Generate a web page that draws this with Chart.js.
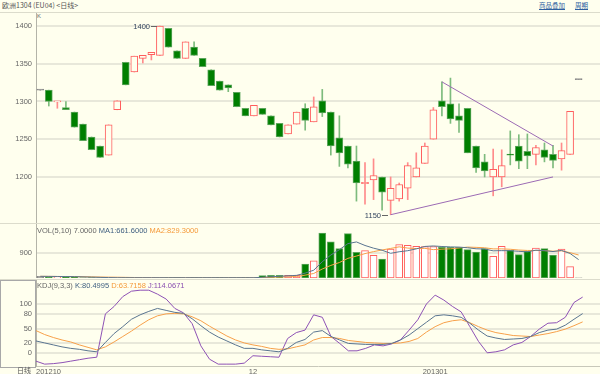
<!DOCTYPE html>
<html>
<head>
<meta charset="utf-8">
<script src="https://cdn.jsdelivr.net/npm/chart.js@4/dist/chart.umd.min.js"></script>
<style>
  body { margin: 0; width: 600px; height: 374px; overflow: hidden; position: relative; background: #FFFFEE; font-family: "Liberation Sans", Arial, sans-serif; }
  canvas { position: absolute; left: 0; }
  .txt { position: absolute; white-space: nowrap; font-size: 7.5px; line-height: 9px; color: #666; }
  .hline { position: absolute; left: 0; width: 600px; height: 1px; background: #DCDCCC; }
  #title { left: 2px; top: 1px; font-family: "Noto Sans CJK SC", sans-serif; font-size: 7px; color: #555; }
  #links { right: 12px; top: 1px; font-family: "Noto Sans CJK SC", sans-serif; font-size: 6.5px; }
  #links span { color: #2F5F9F; text-decoration: underline; margin-left: 10px; }
  #leftBox { position: absolute; left: 0; top: 280px; width: 34px; height: 86px; border: 1px solid #A8A8A8; }
  .ma1 { color: #3F5F80; }
  .ma2 { color: #F59A3A; }
  .jc { color: #8A4FB0; }
</style>
</head>
<body>
<div class="txt" id="title">欧洲1304 (EU04) &lt;日线&gt;</div>
<div class="txt" id="links"><span>商品叠加</span><span>周期</span></div>
<div class="hline" style="top:12px"></div>
<div class="txt" style="left:37px;top:12px;font-size:6px;">K</div>
<div id="leftBox"></div>

<canvas id="price" width="600" height="211" style="top:13px"></canvas>
<canvas id="vol" width="600" height="55" style="top:223px"></canvas>
<canvas id="kdj" width="600" height="95" style="top:279px"></canvas>

<div class="hline" style="top:223px"></div>
<div class="hline" style="top:279px"></div>

<div class="txt" style="left:37px;top:226px;">VOL(5,10) 7.0000 <span class="ma1">MA1:661.6000</span> <span class="ma2">MA2:829.3000</span></div>
<div class="txt" style="left:37px;top:281px;">KDJ(9,3,3) <span class="ma1">K:80.4995</span> <span class="ma2">D:63.7158</span> <span class="jc">J:114.0671</span></div>
<div class="txt" style="left:17px;top:366px;font-family:'Noto Sans CJK SC',sans-serif;font-size:7px;color:#555;">日线</div>

<script>
// x axis labels (one per trading day, only month marks shown; two empty slots on the right)
const xTicks = ['201210', '', '', '', '', '', '', '', '', '', '', '', '', '', '', '', '', '', '', '', '', '', '', '', '',
  '12', '', '', '', '', '', '', '', '', '', '', '', '', '', '', '', '', '', '', '', '',
  '201301', '', '', '', '', '', '', '', '', '', '', '', '', '', '', '', '', '', '', ''];

const opens  = [1315, 1315, 1299.5, 1292, 1286, 1270, 1253, 1241, 1229, 1289, 1352, 1339, 1357, 1362, 1361, 1397,
  1367, 1357, 1372, 1357, 1342, 1327, 1322, 1312, 1291, 1281, 1291, 1281, 1271, 1257, 1270, 1291,
  1273, 1301, 1286, 1252, 1241, 1221, 1191, 1196, 1200, 1169, 1171, 1185, 1200, 1218, 1250, 1301,
  1297, 1281, 1291, 1241, 1220, 1200, 1200, 1230, 1241, 1234, 1230, 1236, 1230, 1224, 1230, 1329];
const highs  = [1315, 1315, 1300, 1300, 1286, 1270, 1253, 1241, 1269, 1301, 1352, 1360, 1361, 1365, 1400, 1397,
  1367, 1379, 1379, 1357, 1342, 1327, 1322, 1312, 1291, 1295, 1291, 1281, 1271, 1269, 1286, 1297,
  1306, 1316, 1286, 1281, 1241, 1241, 1219, 1224, 1200, 1200, 1192, 1219, 1232, 1245, 1292, 1326,
  1331, 1297, 1291, 1241, 1230, 1237, 1236, 1261, 1256, 1257, 1242, 1245, 1242, 1245, 1287, 1329];
const lows   = [1315, 1294, 1291, 1289, 1266, 1248, 1236, 1226, 1229, 1289, 1322, 1339, 1351, 1355, 1361, 1372,
  1357, 1357, 1361, 1346, 1321, 1315, 1313, 1293, 1281, 1281, 1283, 1269, 1253, 1257, 1270, 1262,
  1273, 1280, 1229, 1214, 1212, 1168, 1164, 1170, 1156, 1150, 1168, 1170, 1200, 1218, 1250, 1281,
  1271, 1259, 1232, 1206, 1200, 1175, 1187, 1216, 1211, 1211, 1216, 1220, 1212, 1209, 1230, 1329];
const closes = [1315, 1300, 1300, 1289, 1266, 1248, 1236, 1226, 1269, 1301, 1322, 1360, 1361, 1365, 1400, 1372,
  1357, 1379, 1361, 1346, 1321, 1315, 1318, 1293, 1281, 1295, 1283, 1269, 1253, 1269, 1286, 1275,
  1293, 1285, 1241, 1232, 1217, 1192, 1193, 1202, 1180, 1185, 1190, 1215, 1212, 1241, 1289, 1293,
  1277, 1275, 1232, 1212, 1208, 1210, 1215, 1229, 1221, 1228, 1239, 1226, 1222, 1235, 1287, 1329];

const volumes = [60, 55, 50, 45, 40, 10, 12, 8, 10, 9, 11, 10, 8, 12, 10, 9, 11, 10, 12, 9, 10, 11, 8, 10, 12, 10,
  90, 95, 100, 92, 96, 500, 620, 1620, 1300, 1055, 1595, 922, 983, 814, 684, 1044, 1199, 1174, 1138, 1127,
  1127, 1102, 1102, 1102, 1019, 936, 1055, 778, 1138, 994, 839, 958, 1080, 1055, 828, 1044, 407, 7];
const volMa5  = [60, 58, 55, 52, 50, 40, 31, 23, 15, 10, 10, 10, 10, 10, 10, 10, 10, 10, 10, 10, 10, 10, 10, 10, 10, 10,
  26, 43, 61, 79, 95, 176, 281, 586, 827, 1019, 1238, 1298, 1171, 1074, 1000, 889, 945, 983, 1048, 1136,
  1153, 1134, 1119, 1112, 1090, 1052, 1043, 978, 985, 980, 961, 941, 1002, 985, 952, 993, 883, 662];
const volMa10 = [60, 58, 55, 52, 50, 45, 40, 35, 31, 28, 23, 18, 14, 10, 10, 10, 10, 10, 10, 10, 10, 10, 10, 10, 10, 10,
  18, 27, 36, 44, 53, 102, 163, 324, 453, 557, 707, 790, 879, 950, 1009, 1064, 1122, 1077, 1061, 1068,
  1021, 1039, 1051, 1080, 1113, 1103, 1088, 1049, 1049, 1035, 1007, 992, 990, 985, 966, 977, 912, 829];

const kLine = [25, 21, 17, 13, 10, 8, 5, 3, 22, 40, 54, 69, 78, 85, 91, 87, 83, 81, 70, 56, 43, 33, 25, 17, 10, 10,
  7, 5, 3, 10, 22, 28, 43, 46, 34, 27, 20, 19, 18, 18, 18, 20, 27, 37, 50, 63, 76, 78, 76, 73, 61, 47,
  35, 31, 28, 29, 30, 34, 42, 47, 49, 57, 69, 80.5];
const dLine = [46, 38, 32, 27, 23, 17, 12, 7, 13, 23, 34, 45, 57, 68, 76, 80, 81, 80, 74, 66, 55, 45, 35, 27, 21, 17,
  14, 10, 8, 9, 13, 17, 27, 32, 32, 30, 26, 24, 22, 21, 20, 20, 21, 24, 30, 43, 54, 62, 66, 68, 62, 54,
  47, 42, 39, 36, 35, 34, 37, 40, 44, 49, 56, 63.7];
const jLine = [-16, -22, -21, -19, -16, -13, -10, -8, 80, 95, 115, 126, 128, 128, 120, 110, 91, 82, 60, 15, -12, -22,
  -22, -22, -20, -5, -6, -7, -8, 30, 42, 47, 78, 73, 34, 20, 5, 5, 10, 17, 15, 19, 27, 47, 68, 100, 118,
  108, 95, 84, 54, 24, 1, 3, 7, 17, 22, 34, 49, 61, 62, 73, 103, 114];

// trend lines: [index, price]
const upperTrend = [[47, 1326], [60, 1241]];
const lowerTrend = [[41, 1150], [60, 1200]];

const priceTicks = [1200, 1250, 1300, 1350, 1400];
const volTicks = [900];
const kdjTicks = [0, 20, 50, 80, 100];

const BG = '#FFFFEE';
const GRID = '#E8E8DA';
const AXIS = '#B4B4A8';
const FONT = { family: '"Liberation Sans", Arial, sans-serif', size: 7.5 };

const dir = opens.map((o, i) => closes[i] > o ? 'up' : closes[i] < o ? 'down' : 'flat');
const bodyFill = dir.map(d => d === 'up' ? BG : d === 'down' ? '#007F00' : '#8A8A8A');
const bodyLine = dir.map(d => d === 'up' ? '#FF5E5E' : d === 'down' ? '#5DA65D' : '#8A8A8A');
const wickColor = dir.map(d => d === 'up' ? '#FF8C8C' : d === 'down' ? '#7DBB7D' : '#8A8A8A');

function trendData(pts) {
  const arr = xTicks.map(() => null);
  pts.forEach(([i, v]) => { arr[i] = v; });
  return arr;
}

function yAxis(ticks, min, max) {
  return {
    position: 'left',
    min: min,
    max: max,
    // fixed label column, and no extra room for the end labels
    afterFit: s => { s.width = 36; s.paddingTop = 0; s.paddingBottom = 0; },
    afterBuildTicks: s => { s.ticks = ticks.map(v => ({ value: v })); },
    grid: { color: GRID, lineWidth: 2, drawTicks: false },
    border: { display: true, color: AXIS },
    ticks: { font: FONT, color: '#666', padding: 4, callback: v => String(v) }
  };
}

const base = {
  responsive: false,
  animation: false,
  layout: { padding: 0 },
  plugins: { legend: { display: false }, tooltip: { enabled: false } }
};

// price extremes marked on the chart
const hiIdx = highs.indexOf(Math.max(...highs));
const loIdx = lows.indexOf(Math.min(...lows));
const marks = [{ index: hiIdx, value: highs[hiIdx] }, { index: loIdx, value: lows[loIdx] }];

const markPlugin = {
  id: 'marks',
  afterDatasetsDraw(chart) {
    const { ctx, scales: { x, y } } = chart;
    ctx.save();
    ctx.font = '7.5px "Liberation Sans", Arial, sans-serif';
    ctx.fillStyle = '#33445E';
    ctx.strokeStyle = '#666';
    ctx.lineWidth = 1;
    ctx.textAlign = 'right';
    ctx.textBaseline = 'middle';
    marks.forEach(m => {
      const px = Math.round(x.getPixelForValue(m.index));
      const py = Math.round(y.getPixelForValue(m.value));
      ctx.beginPath();
      ctx.moveTo(px - 9, py + 0.5);
      ctx.lineTo(px - 3, py + 0.5);
      ctx.stroke();
      ctx.fillText(String(m.value), px - 10, py + 1);
    });
    ctx.restore();
  }
};

new Chart(document.getElementById('price'), {
  data: {
    labels: xTicks,
    datasets: [
      { type: 'bar', data: lows.map((l, i) => [l, highs[i]]), backgroundColor: wickColor,
        barThickness: 1, grouped: false, order: 3 },
      { type: 'bar', data: opens.map((o, i) => [o, closes[i]]), backgroundColor: bodyFill,
        borderColor: bodyLine, borderWidth: 1, borderSkipped: false, barThickness: 7,
        minBarLength: 1, grouped: false, order: 2 },
      { type: 'line', data: trendData(upperTrend), borderColor: '#9C6BB4', borderWidth: 1,
        pointRadius: 0, spanGaps: true, order: 1 },
      { type: 'line', data: trendData(lowerTrend), borderColor: '#9C6BB4', borderWidth: 1,
        pointRadius: 0, spanGaps: true, order: 1 }
    ]
  },
  options: {
    ...base,
    scales: {
      x: { display: false },
      y: yAxis(priceTicks, 1137.7, 1417.2)
    }
  },
  plugins: [markPlugin]
});

new Chart(document.getElementById('vol'), {
  data: {
    labels: xTicks,
    datasets: [
      { type: 'line', data: volMa5, borderColor: '#5A7590', borderWidth: 1, pointRadius: 0, order: 1 },
      { type: 'line', data: volMa10, borderColor: '#F7A04A', borderWidth: 1, pointRadius: 0, order: 1 },
      { type: 'bar', data: volumes, backgroundColor: bodyFill.map(c => c === BG ? '#FFFFFF' : c),
        borderColor: bodyLine, borderWidth: 1, borderSkipped: false, barThickness: 7,
        grouped: false, order: 2 }
    ]
  },
  options: {
    ...base,
    scales: {
      x: { display: false },
      y: yAxis(volTicks, 0, 1980)
    }
  }
});

new Chart(document.getElementById('kdj'), {
  type: 'line',
  data: {
    labels: xTicks,
    datasets: [
      { data: kLine, borderColor: '#5A7590', borderWidth: 1, pointRadius: 0 },
      { data: dLine, borderColor: '#F7A04A', borderWidth: 1, pointRadius: 0 },
      { data: jLine, borderColor: '#8E52B5', borderWidth: 1, pointRadius: 0 }
    ]
  },
  options: {
    ...base,
    scales: {
      x: {
        afterFit: s => { s.height = 8; s.paddingLeft = 0; s.paddingRight = 0; },
        grid: { display: false, drawTicks: false },
        border: { display: true, color: '#C8C8BA' },
        ticks: { autoSkip: false, maxRotation: 0, align: 'inner', padding: 1, font: FONT, color: '#666',
          callback: (v, i) => xTicks[i] }
      },
      y: yAxis(kdjTicks, -25.8, 150.7)
    }
  }
});
</script>
</body>
</html>
